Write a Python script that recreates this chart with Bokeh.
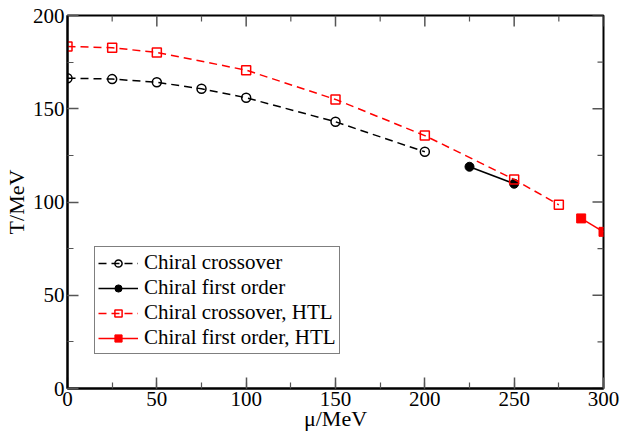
from bokeh.plotting import figure
from bokeh.models import Legend, LegendItem, Range1d, SingleIntervalTicker
from bokeh.embed import file_html
from bokeh.resources import INLINE

# Chiral crossover
mu_cross = [0, 25, 50, 75, 100, 150, 200]
T_cross = [166.4, 165.9, 164.2, 160.7, 155.9, 143.0, 126.9]
# Chiral first order
mu_first = [225, 250]
T_first = [118.9, 109.8]
# Chiral crossover, HTL
mu_cross_htl = [0, 25, 50, 100, 150, 200, 250, 275]
T_cross_htl = [183.4, 182.7, 180.2, 170.7, 155.0, 135.6, 112.1, 98.5]
# Chiral first order, HTL
mu_first_htl = [287.5, 300]
T_first_htl = [91.2, 84.0]

# tick positions
x_major = [0, 50, 100, 150, 200, 250, 300]
x_minor = [25, 75, 125, 175, 225, 275]
y_major = [0, 50, 100, 150, 200]
y_minor = [25, 75, 125, 175]

X_MIN, X_MAX = 0, 300
Y_MIN, Y_MAX = 0, 200

FONT = "Liberation Serif"

p = figure(width=621, height=433, output_backend="svg", toolbar_location=None,
           x_range=Range1d(X_MIN, X_MAX), y_range=Range1d(Y_MIN, Y_MAX),
           min_border_left=67, min_border_right=18, min_border_top=15, min_border_bottom=45,
           x_axis_label="μ/MeV", y_axis_label="T/MeV")
p.grid.visible = False
p.outline_line_color = "black"
p.outline_line_width = 2
p.background_fill_color = "white"
p.border_fill_color = "white"

TICK_COLOR = "#555555"

def style_axis(ax):
    ax.major_tick_in = 11
    ax.major_tick_out = 0
    ax.minor_tick_in = 6
    ax.minor_tick_out = 0
    ax.major_tick_line_color = TICK_COLOR
    ax.minor_tick_line_color = TICK_COLOR
    ax.major_tick_line_width = 1.5
    ax.minor_tick_line_width = 1.2
    ax.axis_line_color = "black"
    ax.axis_line_width = 2
    ax.major_label_text_font = FONT
    ax.major_label_text_color = "black"
    ax.major_label_text_font_size = "21px"
    ax.major_label_standoff = 3
    ax.axis_label_text_font = FONT
    ax.axis_label_text_font_style = "normal"
    ax.axis_label_text_font_size = "22px"
    ax.axis_label_text_color = "black"

xa = p.xaxis[0]
ya = p.yaxis[0]
style_axis(xa)
style_axis(ya)
xa.ticker = SingleIntervalTicker(interval=50, num_minor_ticks=2)
ya.ticker = SingleIntervalTicker(interval=50, num_minor_ticks=2)
xa.axis_label_standoff = -3
ya.axis_label_standoff = 1

# mirrored ticks on top and right edges (lengths in px converted to data units)
px_x = (X_MAX - X_MIN) / 536.0
px_y = (Y_MAX - Y_MIN) / 373.0
p.segment(x0=x_major, y0=[Y_MAX] * len(x_major), x1=x_major,
          y1=[Y_MAX - 11 * px_y] * len(x_major), line_color=TICK_COLOR, line_width=1.5)
p.segment(x0=x_minor, y0=[Y_MAX] * len(x_minor), x1=x_minor,
          y1=[Y_MAX - 6 * px_y] * len(x_minor), line_color=TICK_COLOR, line_width=1.2)
p.segment(x0=[X_MAX] * len(y_major), y0=y_major, x1=[X_MAX - 11 * px_x] * len(y_major),
          y1=y_major, line_color=TICK_COLOR, line_width=1.5)
p.segment(x0=[X_MAX] * len(y_minor), y0=y_minor, x1=[X_MAX - 6 * px_x] * len(y_minor),
          y1=y_minor, line_color=TICK_COLOR, line_width=1.2)

l1 = p.line(mu_cross, T_cross, line_color="black", line_width=1.5, line_dash="8 5")
s1 = p.scatter(mu_cross, T_cross, marker="circle", size=9, fill_color=None,
               line_color="black", line_width=1.5)
l2 = p.line(mu_first, T_first, line_color="black", line_width=1.5)
s2 = p.scatter(mu_first, T_first, marker="circle", size=9, fill_color="black",
               line_color="black")
l3 = p.line(mu_cross_htl, T_cross_htl, line_color="red", line_width=1.5, line_dash="8 5")
s3 = p.scatter(mu_cross_htl, T_cross_htl, marker="square", size=9, fill_color=None,
               line_color="red", line_width=1.5)
l4 = p.line(mu_first_htl, T_first_htl, line_color="red", line_width=1.5)
s4 = p.scatter(mu_first_htl, T_first_htl, marker="square", size=9, fill_color="red",
               line_color="red")

legend = Legend(items=[
    LegendItem(label="Chiral crossover", renderers=[l1, s1]),
    LegendItem(label="Chiral first order", renderers=[l2, s2]),
    LegendItem(label="Chiral crossover, HTL", renderers=[l3, s3]),
    LegendItem(label="Chiral first order, HTL", renderers=[l4, s4]),
], location=(27, 34))
legend.label_text_font = FONT
legend.label_text_font_size = "21px"
legend.label_text_color = "black"
legend.glyph_width = 40
legend.glyph_height = 18
legend.label_height = 18
legend.label_standoff = 6
legend.spacing = 0
legend.padding = 3
legend.margin = 0
legend.border_line_color = "black"
legend.border_line_width = 1
legend.background_fill_alpha = 1
p.add_layout(legend, "center")

open("out.html", "w").write(file_html(p, INLINE))
